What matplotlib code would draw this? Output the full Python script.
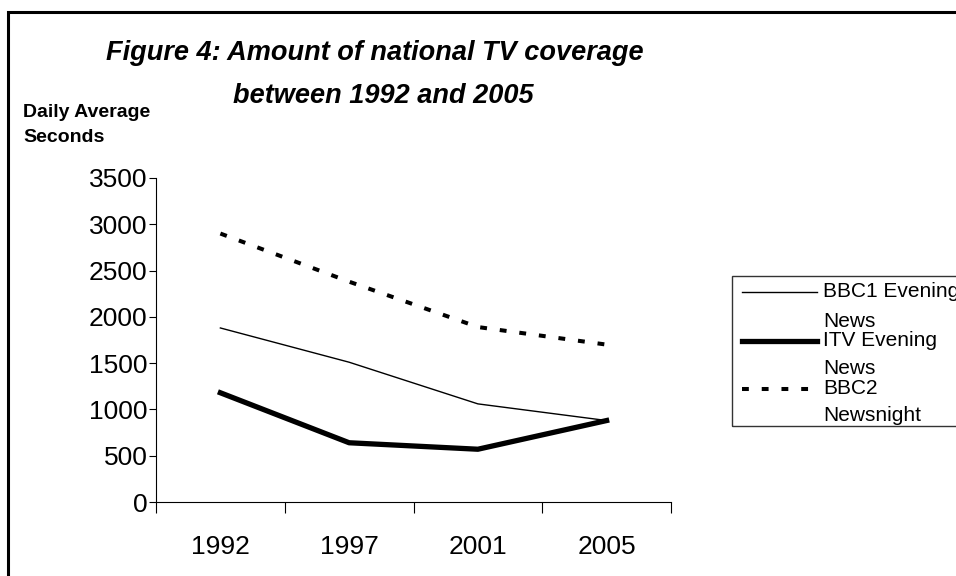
"""
Figure 4: national TV coverage, daily average seconds 1992-2005
"""
import matplotlib
matplotlib.use('Agg')
import matplotlib.pyplot as plt
from matplotlib.patches import Rectangle
from matplotlib.lines import Line2D

plt.rcParams['font.family'] = ['Liberation Sans', 'DejaVu Sans']

years = ['1992', '1997', '2001', '2005']
bbc1_news = [1880, 1510, 1060, 880]
itv_news = [1180, 640, 570, 880]
bbc2_newsnight = [2900, 2380, 1890, 1700]
yticks = [0, 500, 1000, 1500, 2000, 2500, 3000, 3500]
series_names = ['BBC1 Evening\nNews', 'ITV Evening\nNews', 'BBC2\nNewsnight']

W, H = 956, 576
fig = plt.figure(figsize=(W / 100, H / 100), dpi=100)
ax = fig.add_axes([156 / W, 1 - 502 / H, 515 / W, 324 / H])

styles = [dict(color='black', lw=1.0),
          dict(color='black', lw=3.8),
          dict(color='black', lw=2.9, dashes=(1.7, 3.2))]

x = list(range(len(years)))
for vals, st in zip([bbc1_news, itv_news, bbc2_newsnight], styles):
    ax.plot(x, vals, **st)

# category axis: ticks sit between the years
ax.set_xlim(-0.5, len(years) - 0.5)
ax.set_xticks([i - 0.5 for i in range(len(years) + 1)])
ax.set_xticklabels([])
ax.set_xticks(x, minor=True)
ax.set_xticklabels(years, minor=True, fontsize=19)
ax.tick_params(axis='x', which='major', direction='out', length=8, width=0.8)
ax.tick_params(axis='x', which='minor', length=0, pad=24)

ax.set_ylim(0, 3500)
ax.set_yticks(yticks)
ax.set_yticklabels([str(v) for v in yticks], fontsize=19)
ax.tick_params(axis='y', direction='out', length=5, width=0.8, pad=1)

for s in ['top', 'right']:
    ax.spines[s].set_visible(False)
for s in ['left', 'bottom']:
    ax.spines[s].set_linewidth(0.8)

# legend box, runs off the right edge
fig.add_artist(Rectangle((732 / W, 1 - 426 / H), 0.5, 150 / H, transform=fig.transFigure,
                         fill=False, edgecolor='#333333', lw=1.0))
handle_y = [292, 341, 389]
second_gap = [30, 28, 27]
for name, st, hy, gap in zip(series_names, styles, handle_y, second_gap):
    fig.add_artist(Line2D([742 / W, 817 / W], [1 - hy / H, 1 - hy / H],
                          transform=fig.transFigure, **st))
    first, second = name.split('\n')
    fig.text(823 / W, 1 - (hy + 5) / H, first, fontsize=15, va='baseline')
    fig.text(823 / W, 1 - (hy + 5 + gap) / H, second, fontsize=15, va='baseline')

fig.text(375 / W, 1 - 60 / H, 'Figure 4: Amount of national TV coverage',
         ha='center', va='baseline', fontsize=19.5, fontweight='bold', fontstyle='italic')
fig.text(383 / W, 1 - 103 / H, 'between 1992 and 2005',
         ha='center', va='baseline', fontsize=19.5, fontweight='bold', fontstyle='italic')
fig.text(23 / W, 1 - 117 / H, 'Daily Average', ha='left', va='baseline',
         fontsize=14, fontweight='bold')
fig.text(23 / W, 1 - 142 / H, 'Seconds', ha='left', va='baseline',
         fontsize=14, fontweight='bold')

# outer frame, only the left and top edges fall inside the image
fig.add_artist(Rectangle((8 / W, -0.5), 2, 0.5 + 1 - 12 / H, transform=fig.transFigure,
                         fill=False, edgecolor='black', lw=2.2))

fig.savefig('out.png', dpi=100)
print('Finshed')
